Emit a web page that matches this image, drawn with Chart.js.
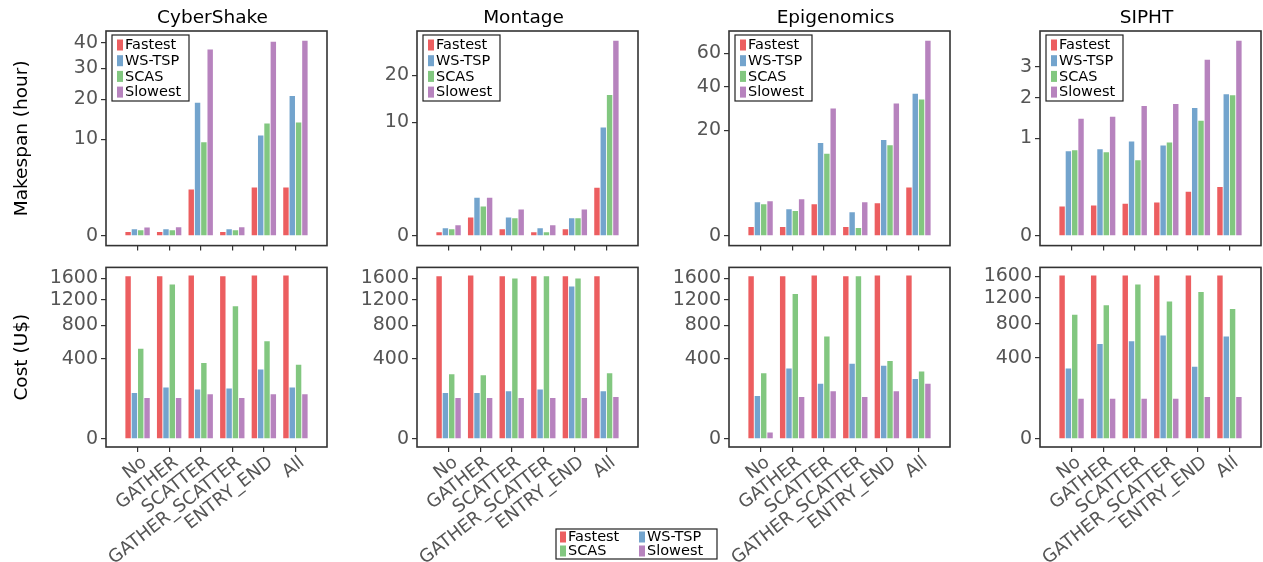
<!DOCTYPE html>
<html>
<head>
<meta charset="utf-8">
<title>Makespan and cost per workflow</title>
<script src="https://cdn.jsdelivr.net/npm/chart.js@4.4.1/dist/chart.umd.min.js"></script>
<style>
  body { margin: 0; background: #fff; width: 1263px; height: 562px; overflow: hidden; position: relative; }
  canvas { position: absolute; }
</style>
</head>
<body>
<script>
// ---- data ----
const workflows  = ["CyberShake", "Montage", "Epigenomics", "SIPHT"];
const categories = ["No", "GATHER", "SCATTER", "GATHER_SCATTER", "ENTRY_END", "All"];
const algorithms = ["Fastest", "WS-TSP", "SCAS", "Slowest"];
const colors     = ["rgba(228,26,28,0.7)", "rgba(55,126,184,0.7)", "rgba(77,175,74,0.7)", "rgba(152,78,163,0.7)"];

// makespan (hours), rows = Fastest, WS-TSP, SCAS, Slowest
const makespanCyberShake = [
  [0.015, 0.015, 2.3, 0.015, 2.5, 2.5],
  [0.047, 0.047, 19.0, 0.047, 10.8, 21.0],
  [0.034, 0.034, 9.4, 0.034, 13.5, 13.8],
  [0.075, 0.08, 37.2, 0.08, 40.4, 40.8]
];
const makespanMontage = [
  [0.01, 0.26, 0.034, 0.01, 0.034, 1.8],
  [0.045, 1.13, 0.26, 0.045, 0.24, 9.1],
  [0.034, 0.67, 0.24, 0.01, 0.24, 15.4],
  [0.087, 1.13, 0.54, 0.087, 0.54, 29.5]
];
const makespanEpigenomics = [
  [0.14, 0.14, 1.8, 0.14, 1.9, 4.2],
  [2.03, 1.28, 15.5, 1.01, 16.5, 36.4],
  [1.8, 1.1, 12.1, 0.11, 14.8, 33.4],
  [2.15, 2.4, 29.2, 2.03, 31.5, 68.5]
];
const makespanSIPHT = [
  [0.09, 0.096, 0.109, 0.116, 0.204, 0.25],
  [0.75, 0.786, 0.936, 0.86, 1.72, 2.11],
  [0.77, 0.733, 0.60, 0.917, 1.39, 2.08],
  [1.44, 1.49, 1.77, 1.83, 3.26, 4.0]
];

// cost (U$)
const costCyberShake = [
  [1645, 1645, 1660, 1645, 1660, 1660],
  [131, 164, 152, 158, 299, 164],
  [505, 1483, 359, 1095, 594, 341],
  [104, 104, 124, 104, 124, 124]
];
const costMontage = [
  [1645, 1660, 1645, 1645, 1645, 1645],
  [131, 131, 141, 152, 1447, 141],
  [260, 252, 1600, 1645, 1600, 267],
  [104, 104, 104, 104, 104, 109]
];
const costEpigenomics = [
  [1645, 1645, 1660, 1645, 1660, 1660],
  [114, 307, 189, 350, 332, 223],
  [267, 1307, 652, 1645, 377, 283],
  [2.5, 109, 141, 109, 141, 189]
];
const costSIPHT = [
  [1615, 1615, 1615, 1615, 1615, 1615],
  [299, 544, 577, 646, 315, 634],
  [932, 1080, 1442, 1142, 1304, 1020],
  [97, 97, 97, 97, 106, 106]
];

const makespanData  = [makespanCyberShake, makespanMontage, makespanEpigenomics, makespanSIPHT];
const costData      = [costCyberShake, costMontage, costEpigenomics, costSIPHT];
const makespanTicks = [[0, 10, 20, 30, 40], [0, 10, 20], [0, 20, 40, 60], [0, 1, 2, 3]];
const costTicks     = [0, 400, 800, 1200, 1600];

// ---- square-root value axis ----
const tf   = v => Math.sign(v) * Math.sqrt(Math.abs(v));
const tinv = t => Math.sign(t) * t * t;

class SqrtScale extends Chart.LinearScale {
  getPixelForValue(value) {
    const a = tf(this.min), b = tf(this.max);
    return this.getPixelForDecimal((tf(value) - a) / (b - a));
  }
  getValueForPixel(pixel) {
    const a = tf(this.min), b = tf(this.max);
    return tinv(a + this.getDecimalForPixel(pixel) * (b - a));
  }
}
SqrtScale.id = "sqrt";
SqrtScale.defaults = Chart.LinearScale.defaults;
Chart.register(SqrtScale);

Chart.defaults.font.family = '"DejaVu Sans", sans-serif';

// box around the plot area
const framePlugin = {
  id: "frame",
  afterLayout(chart) {
    // the titles sit a little left of the panel centre in the original
    if (chart.titleBlock) {
      chart.titleBlock.left -= 4;
      chart.titleBlock.right -= 4;
    }
  },
  afterDatasetsDraw(chart) {
    const a = chart.chartArea, ctx = chart.ctx;
    ctx.save();
    ctx.strokeStyle = "#333";
    ctx.lineWidth = 1.6;
    ctx.strokeRect(a.left, a.top, a.right - a.left, a.bottom - a.top);
    ctx.restore();
  }
};

// legend with border, drawn inside the chart area
const boxLegend = {
  id: "boxLegend",
  afterDraw(chart, args, opts) {
    if (!opts.show) return;
    const a = chart.chartArea, ctx = chart.ctx;
    const x0 = a.left + opts.x, y0 = a.top + opts.y;
    ctx.save();
    ctx.fillStyle = "#fff";
    ctx.fillRect(x0, y0, opts.w, opts.h);
    ctx.strokeStyle = "#222";
    ctx.lineWidth = 1.2;
    ctx.strokeRect(x0, y0, opts.w, opts.h);
    ctx.font = '14.5px "DejaVu Sans"';
    ctx.textBaseline = "middle";
    chart.data.datasets.forEach((ds, i) => {
      const col = i % opts.cols, row = Math.floor(i / opts.cols);
      const sx = x0 + opts.padX + col * opts.colW;
      const cy = y0 + opts.padY + row * opts.rowH;
      ctx.fillStyle = ds.backgroundColor;
      ctx.fillRect(sx, cy - 5.5, 6, 11);
      ctx.fillStyle = "#000";
      ctx.fillText(ds.label, sx + 8, cy + 0.5);
    });
    ctx.restore();
  }
};

const frameLeft = [106, 417, 729, 1040];
const frameW = 221;
const axisW = 150;

function addCanvas(left, top, w, h) {
  const c = document.createElement("canvas");
  c.width = w; c.height = h;
  c.style.left = left + "px"; c.style.top = top + "px";
  document.body.appendChild(c);
  return c;
}

function drawPanel(col, row) {
  const series = row === 0 ? makespanData[col] : costData[col];
  const yTicks = row === 0 ? makespanTicks[col] : costTicks;
  const top = row === 0 ? 0 : 253;
  const h = row === 0 ? 260 : 309;
  const canvas = addCanvas(frameLeft[col] - axisW, top, axisW + frameW + 4, h);

  // matplotlib-like 5% margins in sqrt space
  const tmax = tf(Math.max(...series.flat()));
  const pad = 0.05 * tmax;

  new Chart(canvas, {
    type: "bar",
    data: {
      labels: categories.map((c, i) => i),
      datasets: algorithms.map((name, k) => ({
        label: name,
        data: series[k],
        backgroundColor: colors[k],
        borderWidth: 0,
        categoryPercentage: 0.8,
        barPercentage: 0.86
      }))
    },
    options: {
      responsive: false,
      animation: false,
      devicePixelRatio: 1,
      layout: { padding: { top: row === 0 ? 0 : 4, right: 4, left: 0, bottom: 0 } },
      plugins: {
        legend: { display: false },
        tooltip: { enabled: false },
        title: {
          display: row === 0,
          text: workflows[col],
          fullSize: false,
          color: "#000",
          font: { size: 18.5, weight: "normal", lineHeight: "22px" },
          padding: { top: 7.5, bottom: 1.5 }
        },
        boxLegend: { show: row === 0, x: 6, y: 4, w: 77, h: 66, cols: 1, colW: 0, padX: 5, padY: 10, rowH: 15.7 }
      },
      scales: {
        x: {
          type: "linear",
          min: -1,
          max: 6,
          offset: false,
          grid: { offset: false, drawOnChartArea: false, drawTicks: true, tickLength: 5, color: "#333", lineWidth: 1.2 },
          border: { display: false },
          afterBuildTicks: s => { s.ticks = categories.map((c, i) => ({ value: i })); },
          afterFit: s => { s.height = row === 0 ? 12 : 115; },
          ticks: {
            display: row === 1,
            autoSkip: false,
            minRotation: 38,
            maxRotation: 38,
            labelOffset: 7,
            color: "#555",
            font: { size: 18 },
            padding: 0,
            callback: v => categories[v]
          }
        },
        y: {
          type: "sqrt",
          min: tinv(-pad),
          max: tinv(tmax + pad),
          grid: { drawOnChartArea: false, drawTicks: true, tickLength: 5, color: "#333", lineWidth: 1.2 },
          border: { display: false },
          afterBuildTicks: s => { s.ticks = yTicks.map(v => ({ value: v })); },
          afterFit: s => { s.width = axisW; },
          ticks: { color: "#555", font: { size: 19 }, padding: 3, callback: v => String(v) },
          title: {
            display: col === 0,
            text: row === 0 ? "Makespan (hour)" : "Cost (U$)",
            color: "#000",
            font: { size: 18.5, lineHeight: "22px" },
            padding: { top: axisW - frameLeft[0] + 11, bottom: 0 }
          }
        }
      }
    },
    plugins: [framePlugin, boxLegend]
  });
}

for (let row = 0; row < 2; row++) {
  for (let col = 0; col < 4; col++) {
    drawPanel(col, row);
  }
}

// shared legend under the figure
const legendCanvas = addCanvas(550, 524, 180, 40);
new Chart(legendCanvas, {
  type: "bar",
  data: {
    labels: [],
    datasets: algorithms.map((name, k) => ({ label: name, data: [], backgroundColor: colors[k] }))
  },
  options: {
    responsive: false,
    animation: false,
    devicePixelRatio: 1,
    layout: { padding: 0 },
    scales: { x: { display: false }, y: { display: false } },
    plugins: {
      legend: { display: false },
      tooltip: { enabled: false },
      boxLegend: { show: true, x: 6, y: 5, w: 161, h: 30, cols: 2, colW: 79, padX: 4, padY: 8, rowH: 14 }
    }
  },
  plugins: [boxLegend]
});
</script>
</body>
</html>
